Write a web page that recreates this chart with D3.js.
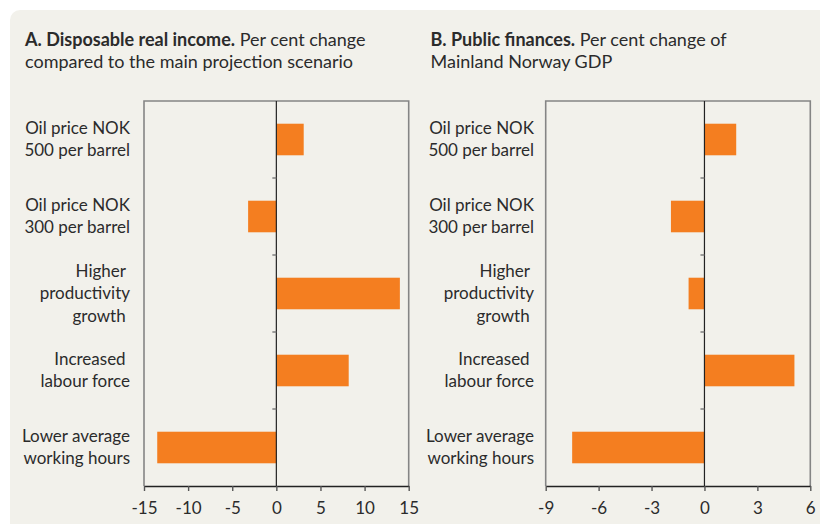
<!DOCTYPE html>
<html lang="en">
<head>
<meta charset="utf-8">
<script src="https://d3js.org/d3.v7.min.js"></script>
<style>
    body { margin: 0; background: #fff; }
    text { font-family: Lato, "Open Sans", sans-serif; fill: #2b2b2b; }
    .title { font-size: 18px; }
    .cat { font-size: 17px; }
    .tick text { font-size: 17px; fill: #2b2b2b; }
</style>
</head>
<body>
<svg width="820" height="524"></svg>

<script>

// categories, one entry per bar, split into label lines
var categories = [
    ["Oil price NOK", "500 per barrel"],
    ["Oil price NOK", "300 per barrel"],
    ["Higher\u00a0", "productivity", "growth\u00a0"],
    ["Increased\u00a0", "labour force"],
    ["Lower average", "working hours"]
];

// A. disposable real income, per cent change vs main projection
var incomeValues = [3.1, -3.2, 14.0, 8.2, -13.5];
var incomeTicks = [-15, -10, -5, 0, 5, 10, 15];

// B. public finances, per cent of Mainland Norway GDP
var financeValues = [1.8, -1.9, -0.9, 5.1, -7.5];
var financeTicks = [-9, -6, -3, 0, 3, 6];

var svg = d3.select("svg");

// panel background
svg.append("rect")
    .attr("x", 10).attr("y", 10)
    .attr("width", 840).attr("height", 540)
    .attr("rx", 10)
    .attr("fill", "#f2f1eb");

function panel(opts) {
    var g = svg.append("g");

    var x = d3.scaleLinear()
        .domain([opts.ticks[0], opts.ticks[opts.ticks.length - 1]])
        .range([opts.left, opts.right]);

    var y = d3.scaleBand()
        .domain(d3.range(categories.length))
        .range([101, 486])
        .paddingInner(0.59)
        .paddingOuter(0.295);

    // title
    var t = g.append("text").attr("class", "title")
        .attr("x", opts.titleX).attr("y", 46);
    t.append("tspan").style("font-weight", "bold").text(opts.titleBold);
    t.append("tspan").text(" " + opts.titleRest[0]);
    g.append("text").attr("class", "title")
        .attr("x", opts.titleX).attr("y", 68)
        .text(opts.titleRest[1]);

    // frame: top, left, right
    g.append("path")
        .attr("d", "M" + x.range()[0] + ",486V101H" + x.range()[1] + "V486")
        .attr("fill", "none")
        .attr("stroke", "#858585")
        .attr("stroke-width", 1.6);

    // bars
    g.selectAll("rect.bar")
        .data(opts.values)
        .enter().append("rect")
        .attr("class", "bar")
        .attr("x", function(d) { return x(Math.min(0, d)); })
        .attr("width", function(d) { return Math.abs(x(d) - x(0)); })
        .attr("y", function(d, i) { return y(i); })
        .attr("height", y.bandwidth())
        .attr("fill", "#f47e20");

    // zero line with category boundary ticks
    g.append("line")
        .attr("x1", x(0)).attr("x2", x(0))
        .attr("y1", 101).attr("y2", 486)
        .attr("stroke", "#222").attr("stroke-width", 1.2);
    g.selectAll("line.sep")
        .data(d3.range(1, categories.length))
        .enter().append("line")
        .attr("class", "sep")
        .attr("x1", x(0) - 4).attr("x2", x(0))
        .attr("y1", function(i) { return 101 + i * y.step(); })
        .attr("y2", function(i) { return 101 + i * y.step(); })
        .attr("stroke", "#777").attr("stroke-width", 1.4);

    // category labels
    var lh = 22.5;
    g.selectAll("text.cat")
        .data(categories)
        .enter().append("text")
        .attr("class", "cat")
        .attr("text-anchor", "end")
        .attr("y", function(d, i) {
            return y(i) + y.bandwidth() / 2 + 5.5 - (d.length - 1) * lh / 2;
        })
        .each(function(d) {
            d3.select(this).selectAll("tspan")
                .data(d)
                .enter().append("tspan")
                .attr("x", opts.labelX)
                .attr("dy", function(l, j) { return j ? lh : 0; })
                .text(function(l) { return l; });
        });

    // bottom axis
    var axis = g.append("g")
        .attr("transform", "translate(0,486)")
        .call(d3.axisBottom(x)
            .tickValues(opts.ticks)
            .tickSize(5)
            .tickSizeOuter(0)
            .tickPadding(11)
            .tickFormat(function(d) { return String(d); }));
    axis.select(".domain").attr("stroke", "#222").attr("stroke-width", 1.4);
    axis.selectAll(".tick line").attr("stroke", "#555").attr("stroke-width", 1.4);
    axis.attr("font-family", null).attr("font-size", null);
}

panel({
    values: incomeValues,
    ticks: incomeTicks,
    left: 144, right: 408.7,
    labelX: 130,
    titleX: 25,
    titleBold: "A. Disposable real income.",
    titleRest: ["Per cent change", "compared to the main projection scenario"]
});

panel({
    values: financeValues,
    ticks: financeTicks,
    left: 545.7, right: 810.3,
    labelX: 534,
    titleX: 430.5,
    titleBold: "B. Public finances.",
    titleRest: ["Per cent change of", "Mainland Norway GDP"]
});

</script>
</body>
</html>
